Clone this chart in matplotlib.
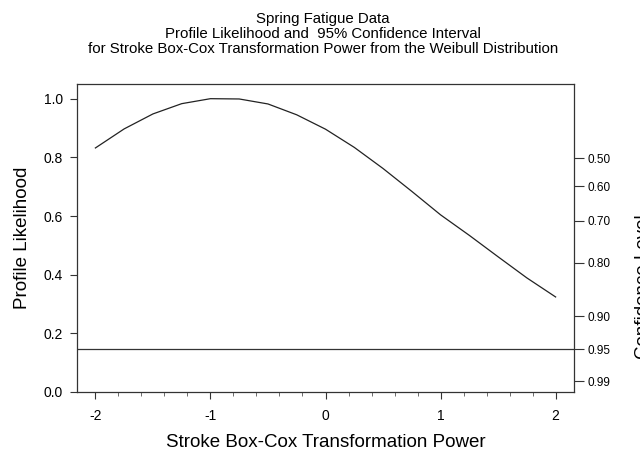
import math
from statistics import NormalDist
import matplotlib
matplotlib.use("Agg")
import matplotlib.pyplot as plt
from matplotlib.ticker import MultipleLocator

# Box-Cox power grid and profile likelihood
powers = [-2.0, -1.75, -1.5, -1.25, -1.0, -0.75, -0.5, -0.25, 0.0,
          0.25, 0.5, 0.75, 1.0, 1.25, 1.5, 1.75, 2.0]
likelihood = [0.832, 0.897, 0.948, 0.983, 1.0, 0.999, 0.982, 0.945, 0.896,
              0.834, 0.762, 0.684, 0.604, 0.534, 0.461, 0.389, 0.324]

x_ticks = [-2, -1, 0, 1, 2]
y_ticks = [0.0, 0.2, 0.4, 0.6, 0.8, 1.0]
conf_levels = [0.50, 0.60, 0.70, 0.80, 0.90, 0.95, 0.99]
ci_level = 0.95


def conf_to_lik(c):
    # relative likelihood cut for a chi-square(1) confidence level
    z = NormalDist().inv_cdf((1 + c) / 2)
    return math.exp(-z * z / 2)


plt.rcParams['font.family'] = ['Liberation Sans', 'DejaVu Sans']

fig = plt.figure(figsize=(6.4, 4.5), dpi=100)
ax = fig.add_axes([0.1203, 0.1289, 0.7766, 0.6844])

ax.plot(powers, likelihood, color='#222222', lw=0.9)
ax.axhline(conf_to_lik(ci_level), color='#333333', lw=0.9)

ax.set_xlim(-2.16, 2.16)
ax.set_ylim(0, 1.05)
ax.set_xticks(x_ticks)
ax.set_xticklabels([str(t) for t in x_ticks])
ax.xaxis.set_minor_locator(MultipleLocator(0.2))
ax.set_yticks(y_ticks)
ax.set_yticklabels([f'{t:.1f}' for t in y_ticks])
ax.tick_params(axis='both', which='major', labelsize=10, length=5,
               width=0.8, color='#333333', pad=5)
ax.tick_params(axis='x', which='minor', length=3, width=0.6, color='#555555')
ax.tick_params(axis='x', pad=7)
for sp in ax.spines.values():
    sp.set_linewidth(0.9)
    sp.set_color('#333333')

ax2 = ax.twinx()
ax2.set_ylim(ax.get_ylim())
ax2.set_yticks([conf_to_lik(c) for c in conf_levels])
ax2.set_yticklabels([f'{c:.2f}' for c in conf_levels])
ax2.tick_params(axis='y', labelsize=8.5, length=7, width=0.8,
                color='#333333', pad=3)
for sp in ax2.spines.values():
    sp.set_visible(False)

ax.set_xlabel('Stroke Box-Cox Transformation Power', fontsize=13.5, labelpad=8)
ax.set_ylabel('Profile Likelihood', fontsize=13.5, labelpad=9)
fig.text(643 / 640, 1 - 287 / 450, 'Confidence Level', rotation=90,
         fontsize=13.5, ha='center', va='center')

fig.text(0.505, 1 - 34 / 450,
         'Spring Fatigue Data\nProfile Likelihood and  95% Confidence Interval\n'
         'for Stroke Box-Cox Transformation Power from the Weibull Distribution',
         ha='center', va='center', fontsize=10.8, linespacing=1.12)

fig.savefig('out.png', dpi=100)
